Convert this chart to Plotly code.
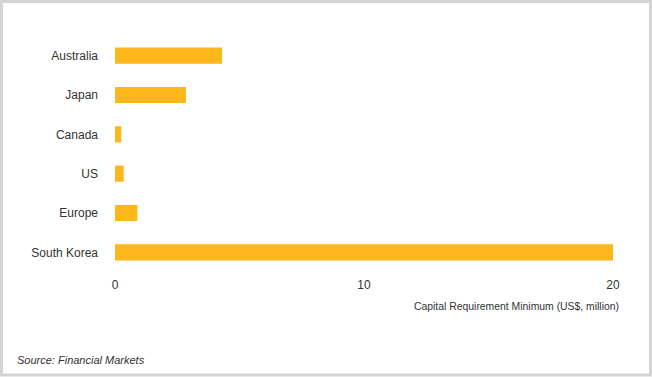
import plotly.graph_objects as go

countries = ["Australia", "Japan", "Canada", "US", "Europe", "South Korea"]
capital_min = [4.3, 2.85, 0.25, 0.35, 0.9, 20]
x_ticks = [0, 10, 20]
x_tick_labels = ["0", "10", "20"]

W, H = 652, 377
L, R, T, B = 115, 39, 36, 105
pw, ph = W - L - R, H - T - B

def px_x(px):
    return (px - L) / pw

def px_y(py):
    return (H - B - py) / ph

fig = go.Figure(go.Bar(
    x=capital_min,
    y=countries,
    orientation="h",
    marker=dict(color="#FDB71A", line=dict(width=0)),
    width=0.41,
))

fig.update_layout(
    width=W, height=H,
    margin=dict(l=L, r=R, t=T, b=B),
    paper_bgcolor="white",
    plot_bgcolor="white",
    showlegend=False,
    font=dict(family="Liberation Sans, Arial, sans-serif", size=12, color="#333333"),
    xaxis=dict(
        range=[0, 20],
        tickvals=x_ticks,
        ticktext=x_tick_labels,
        showgrid=False, zeroline=False, showline=False,
        ticks="", ticklabelstandoff=4,
        tickfont=dict(size=12, color="#333333"),
        fixedrange=True,
    ),
    yaxis=dict(
        categoryorder="array",
        categoryarray=countries[::-1],
        showgrid=False, zeroline=False, showline=False,
        ticks="", ticklabelstandoff=16,
        tickfont=dict(size=12, color="#333333"),
        fixedrange=True,
    ),
    shapes=[dict(
        type="rect", xref="paper", yref="paper",
        x0=px_x(1.5), x1=px_x(650.5), y0=px_y(375), y1=px_y(1.5),
        line=dict(color="#D3D3D3", width=3), fillcolor="rgba(0,0,0,0)",
        layer="below",
    )],
    annotations=[
        dict(text="Capital Requirement Minimum (US$, million)",
             xref="paper", yref="paper", x=px_x(621), y=px_y(306),
             xanchor="right", yanchor="middle", showarrow=False,
             font=dict(size=10.4, color="#333333")),
        dict(text="<i>Source: Financial Markets</i>",
             xref="paper", yref="paper", x=px_x(15), y=px_y(360),
             xanchor="left", yanchor="middle", showarrow=False,
             font=dict(size=11, color="#333333")),
    ],
)

fig.write_html(
    "out.html",
    config={"displayModeBar": False},
    post_script="document.body.style.margin='0';document.body.style.overflow='hidden';",
)
